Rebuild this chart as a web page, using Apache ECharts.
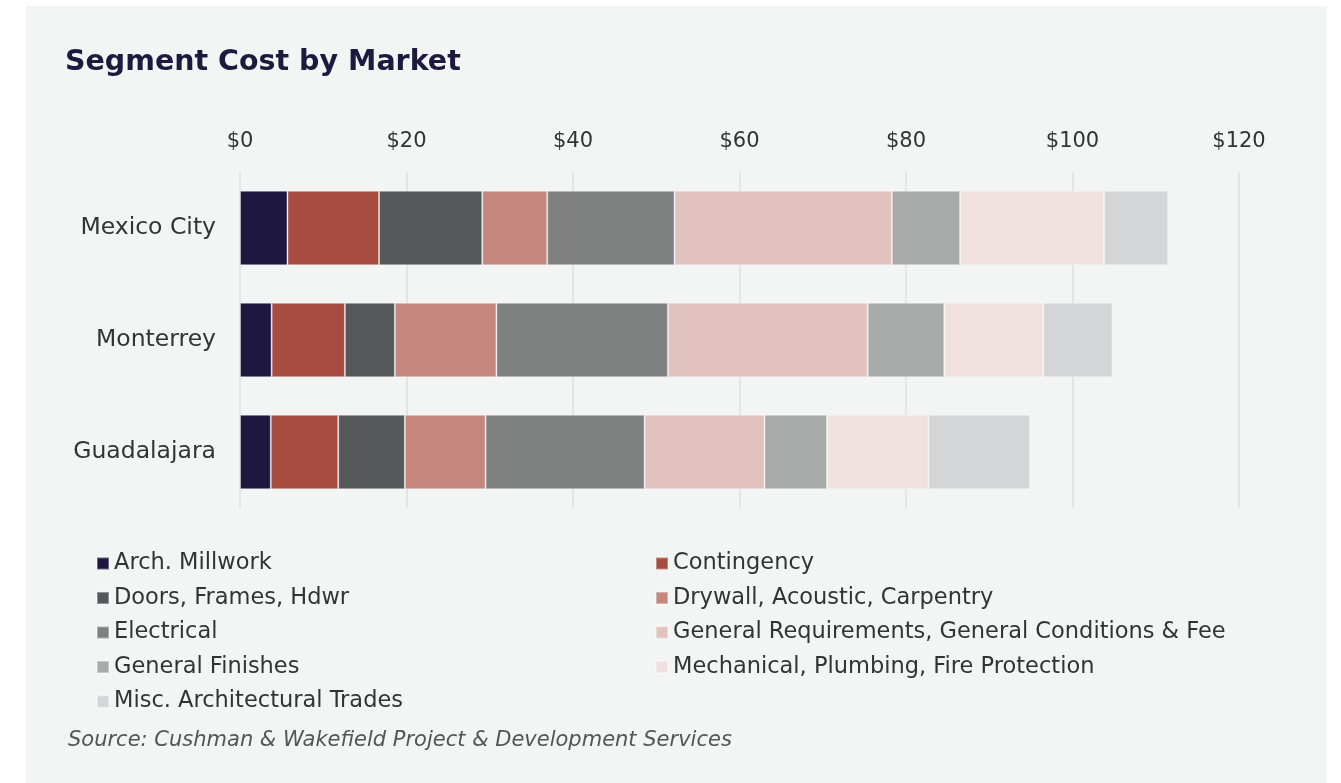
<!DOCTYPE html>
<html><head><meta charset="utf-8">
<script src="https://cdn.jsdelivr.net/npm/echarts@6/dist/echarts.min.js"></script>
<style>html,body{margin:0;padding:0;background:#fff;}#c{width:1341px;height:783px;}</style>
</head><body><div id="c"></div>
<script>
const markets = ['Mexico City', 'Monterrey', 'Guadalajara'];
const tickLabels = ['$0', '$20', '$40', '$60', '$80', '$100', '$120'];
const archMillwork   = [5.7, 3.8, 3.7];
const contingency    = [11.0, 8.8, 8.1];
const doorsFrames    = [12.4, 6.0, 8.0];
const drywall        = [7.8, 12.2, 9.7];
const electrical     = [15.3, 20.6, 19.1];
const generalReq     = [26.1, 24.0, 14.4];
const generalFinish  = [8.2, 9.2, 7.5];
const mechanical     = [17.3, 11.9, 12.2];
const miscArch       = [7.7, 8.3, 12.2];

const seriesDefs = [
  ['Arch. Millwork', archMillwork, '#1e1740'],
  ['Contingency', contingency, '#a84c41'],
  ['Doors, Frames, Hdwr', doorsFrames, '#555859'],
  ['Drywall, Acoustic, Carpentry', drywall, '#c5877e'],
  ['Electrical', electrical, '#7f8181'],
  ['General Requirements, General Conditions & Fee', generalReq, '#e1c2bf'],
  ['General Finishes', generalFinish, '#a9abaa'],
  ['Mechanical, Plumbing, Fire Protection', mechanical, '#f0e1df'],
  ['Misc. Architectural Trades', miscArch, '#d4d5d6']
];
const FONT = '"DejaVu Sans", sans-serif';
const chart = echarts.init(document.getElementById('c'));
const legendText = {fontSize: 22.5, color: '#333', fontFamily: FONT, lineHeight: 22};
chart.setOption({
  backgroundColor: '#ffffff',
  graphic: [
    {type: 'rect', shape: {x: 26, y: 6, width: 1301, height: 777}, style: {fill: '#f3f4f4'}, z: -10},
    {type: 'text', left: 68, top: 730, style: {text: 'Source: Cushman & Wakefield Project & Development Services', fontSize: 21, fontStyle: 'italic', fill: '#555', fontFamily: FONT}}
  ],
  title: {text: 'Segment Cost by Market', left: 60, top: 43, textStyle: {fontSize: 28.5, fontWeight: 'bold', color: '#1e1a3e', fontFamily: FONT}},
  legend: [
    {orient: 'vertical', left: 91, top: 547, itemWidth: 12, itemHeight: 12, itemGap: 11.5, textStyle: legendText,
     data: ['Arch. Millwork', 'Doors, Frames, Hdwr', 'Electrical', 'General Finishes', 'Misc. Architectural Trades'], icon: 'rect'},
    {orient: 'vertical', left: 650, top: 547, itemWidth: 12, itemHeight: 12, itemGap: 11.5, textStyle: legendText,
     data: ['Contingency', 'Drywall, Acoustic, Carpentry', 'General Requirements, General Conditions & Fee', 'Mechanical, Plumbing, Fire Protection'], icon: 'rect'}
  ],
  grid: {left: 240, right: 102, top: 172, bottom: 275, containLabel: false},
  xAxis: {type: 'value', position: 'top', min: 0, max: 120, interval: 20,
    axisLine: {show: false}, axisTick: {show: false},
    splitLine: {lineStyle: {color: '#e0e1e1', width: 1.5}},
    axisLabel: {margin: 20, fontSize: 21, color: '#333', fontFamily: FONT,
      formatter: v => tickLabels[Math.round(v / 20)]}},
  yAxis: {type: 'category', data: markets, inverse: true,
    axisLine: {show: false}, axisTick: {show: false},
    axisLabel: {margin: 24, fontSize: 23.5, color: '#333', fontFamily: FONT}},
  series: seriesDefs.map(([name, data, color]) => ({
    name, type: 'bar', stack: 'total', data, barWidth: '66.5%',
    itemStyle: {color, borderColor: 'rgba(255,255,255,0.35)', borderWidth: 1},
    emphasis: {disabled: true}
  }))
});
</script></body></html>
